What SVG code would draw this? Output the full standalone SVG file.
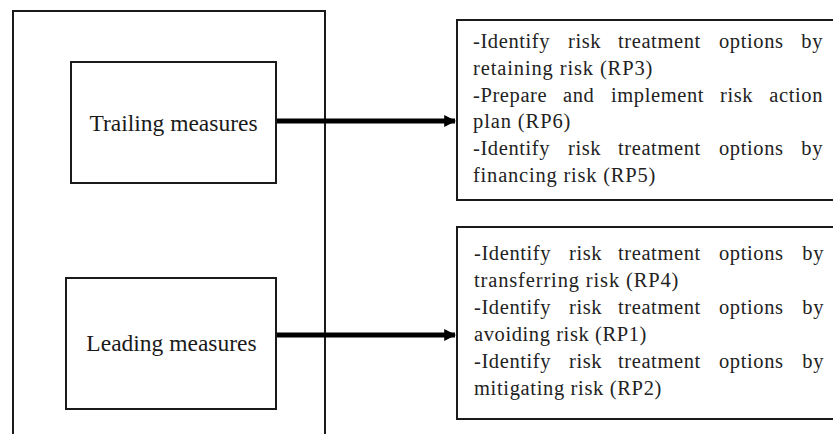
<svg xmlns="http://www.w3.org/2000/svg" width="833" height="434" viewBox="0 0 833 434">
<defs>
<style>
.box{fill:#fff;stroke:#1a1a1a;stroke-width:2}
.frame{fill:none;stroke:#1a1a1a;stroke-width:2}
.lbl{font-family:"Liberation Serif","Times New Roman",serif;font-size:23.5px;fill:#1a1a1a;text-anchor:middle}
.txt{font-family:"Liberation Serif","Times New Roman",serif;font-size:20.5px;fill:#222;letter-spacing:0.6px}
.conn{stroke:#000;stroke-width:5;fill:none}
</style>
<marker id="ah" viewBox="0 0 10 10" refX="9" refY="5" markerWidth="2.4" markerHeight="2.4" orient="auto" markerUnits="strokeWidth">
<path d="M0,0 L10,5 L0,10 z" fill="#000"/>
</marker>
</defs>
<rect width="833" height="434" fill="#fff"/>
<g id="outer">
<path class="frame" d="M13,440 V11 H325 V440"/>
</g>
<g id="trailing">
<rect class="box" x="71" y="62" width="205" height="121"/>
<text class="lbl" x="173.5" y="131">Trailing measures</text>
</g>
<g id="leading">
<rect class="box" x="66" y="278" width="210" height="131"/>
<text class="lbl" x="171.5" y="351">Leading measures</text>
</g>
<g id="trailing-actions">
<rect class="box" x="457" y="20" width="400" height="180"/>
<text class="txt" y="48"><tspan x="473">-Identify</tspan><tspan x="568">risk</tspan><tspan x="618">treatment</tspan><tspan x="719">options</tspan><tspan x="823" text-anchor="end">by</tspan></text>
<text class="txt" x="473" y="75" textLength="180" lengthAdjust="spacing">retaining risk (RP3)</text>
<text class="txt" y="102"><tspan x="473">-Prepare</tspan><tspan x="563">and</tspan><tspan x="611">implement</tspan><tspan x="720">risk</tspan><tspan x="823" text-anchor="end">action</tspan></text>
<text class="txt" x="473" y="128" textLength="98" lengthAdjust="spacing">plan (RP6)</text>
<text class="txt" y="155"><tspan x="473">-Identify</tspan><tspan x="568">risk</tspan><tspan x="618">treatment</tspan><tspan x="719">options</tspan><tspan x="823" text-anchor="end">by</tspan></text>
<text class="txt" x="473" y="182" textLength="183" lengthAdjust="spacing">financing risk (RP5)</text>
</g>
<g id="leading-actions">
<rect class="box" x="457" y="227" width="400" height="192"/>
<text class="txt" y="260"><tspan x="474">-Identify</tspan><tspan x="569">risk</tspan><tspan x="618">treatment</tspan><tspan x="719">options</tspan><tspan x="824" text-anchor="end">by</tspan></text>
<text class="txt" x="474" y="287" textLength="205" lengthAdjust="spacing">transferring risk (RP4)</text>
<text class="txt" y="314"><tspan x="474">-Identify</tspan><tspan x="569">risk</tspan><tspan x="618">treatment</tspan><tspan x="719">options</tspan><tspan x="824" text-anchor="end">by</tspan></text>
<text class="txt" x="474" y="341" textLength="173" lengthAdjust="spacing">avoiding risk (RP1)</text>
<text class="txt" y="368"><tspan x="474">-Identify</tspan><tspan x="569">risk</tspan><tspan x="618">treatment</tspan><tspan x="719">options</tspan><tspan x="824" text-anchor="end">by</tspan></text>
<text class="txt" x="474" y="395" textLength="188" lengthAdjust="spacing">mitigating risk (RP2)</text>
</g>
<g id="connectors">
<line class="conn" x1="277" y1="121" x2="455" y2="121" marker-end="url(#ah)"/>
<line class="conn" x1="277" y1="335" x2="455" y2="335" marker-end="url(#ah)"/>
</g>
</svg>
